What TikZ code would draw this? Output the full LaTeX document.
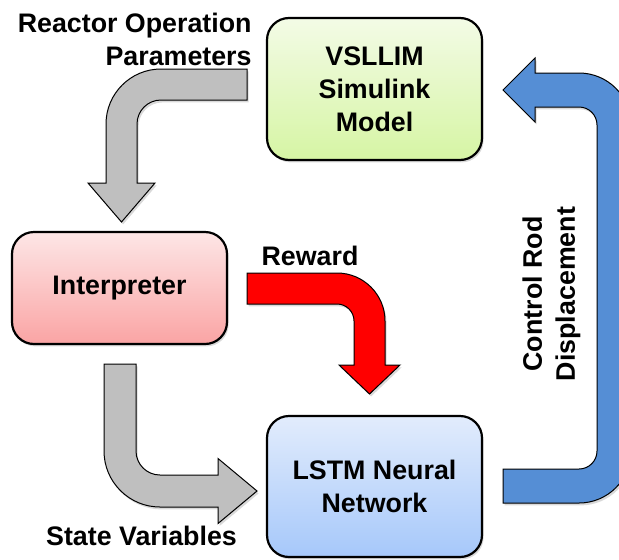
\documentclass[tikz,border=0pt]{standalone}
\usepackage{fontspec}
\setmainfont{Liberation Sans}
\usepackage{tikz}
\usetikzlibrary{shadows}

\definecolor{simtop}{RGB}{243,251,230}
\definecolor{simbot}{RGB}{214,245,164}
\definecolor{intop}{RGB}{253,230,230}
\definecolor{inbot}{RGB}{250,164,164}
\definecolor{nntop}{RGB}{226,236,252}
\definecolor{nnbot}{RGB}{166,200,250}
\definecolor{rodblue}{RGB}{85,142,213}
\definecolor{flowgray}{RGB}{191,191,191}

\tikzset{
  softshadow/.style={drop shadow={shadow xshift=0.8pt, shadow yshift=-1.2pt, opacity=0.3}},
  block/.style={draw=black, line width=1.1pt, rounded corners=11pt,
    minimum width=107.5pt, align=center, softshadow,
    font=\bfseries\fontsize{13.4}{16.5}\selectfont},
  bent/.style={draw=black, line width=0.5pt, line join=miter, softshadow},
  lbl/.style={inner sep=0pt, align=center, font=\bfseries\fontsize{13.4}{16.5}\selectfont}
}

\begin{document}
\begin{tikzpicture}[x=0.5pt, y=0.5pt]
      % Page frame
      \clip (0,0) rectangle (619,559);

      % Blocks of the loop
      \node[block, minimum height=71pt, top color=simtop, bottom color=simbot]
        (sim) at (374.5,470) {VSLLIM\\Simulink\\Model};
      \node[block, minimum height=56pt, top color=intop, bottom color=inbot]
        (interp) at (119.5,271) {Interpreter};
      \node[block, minimum height=70.5pt, top color=nntop, bottom color=nnbot]
        (lstm) at (374.5,72.5) {LSTM Neural\\Network};

      % Bent arrow: simulator output into the interpreter
      \path[bent, fill=flowgray] (247,490) -- (161,490)
        arc[start angle=90, end angle=180, radius=55] -- (106,376) -- (88,376)
        -- (121.5,337) -- (155,376) -- (137,376) -- (137,435)
        arc[start angle=180, end angle=90, radius=24] -- (247,459) -- cycle;

      % Bent arrow: state variables into the network
      \path[bent, fill=flowgray] (104,195) -- (104,108)
        arc[start angle=180, end angle=270, radius=56] -- (218,52) -- (218,35.5)
        -- (257,68) -- (218,100.5) -- (218,84) -- (160,84)
        arc[start angle=270, end angle=180, radius=24] -- (136,195) -- cycle;

      % Bent arrow: reward
      \path[bent, fill=red] (247,286) -- (337,286)
        arc[start angle=90, end angle=0, radius=48] -- (385,194) -- (400,194)
        -- (369.5,165) -- (339,194) -- (354,194) -- (354,238)
        arc[start angle=0, end angle=90, radius=17] -- (247,255) -- cycle;

      % U-shaped arrow: control action back to the simulator
      \path[bent, fill=rodblue] (503,90) -- (579,90)
        arc[start angle=270, end angle=360, radius=18] -- (597,434)
        arc[start angle=0, end angle=90, radius=18] -- (535,452) -- (535,437)
        -- (503,469) -- (535,501) -- (535,486) -- (579,486)
        arc[start angle=90, end angle=0, radius=52] -- (631,108)
        arc[start angle=0, end angle=-90, radius=52] -- (503,56) -- cycle;

      % Labels
      \node[lbl, align=right, anchor=east] (params) at (252,519.5)
        {Reactor Operation\\Parameters};
      \node[lbl, anchor=base] (reward) at (310,294) {Reward};
      \node[lbl, anchor=base] (state) at (141.5,14) {State Variables};
      \node[lbl, rotate=90] (rod) at (551.5,265) {Control Rod\\Displacement};
    \end{tikzpicture}
\end{document}
